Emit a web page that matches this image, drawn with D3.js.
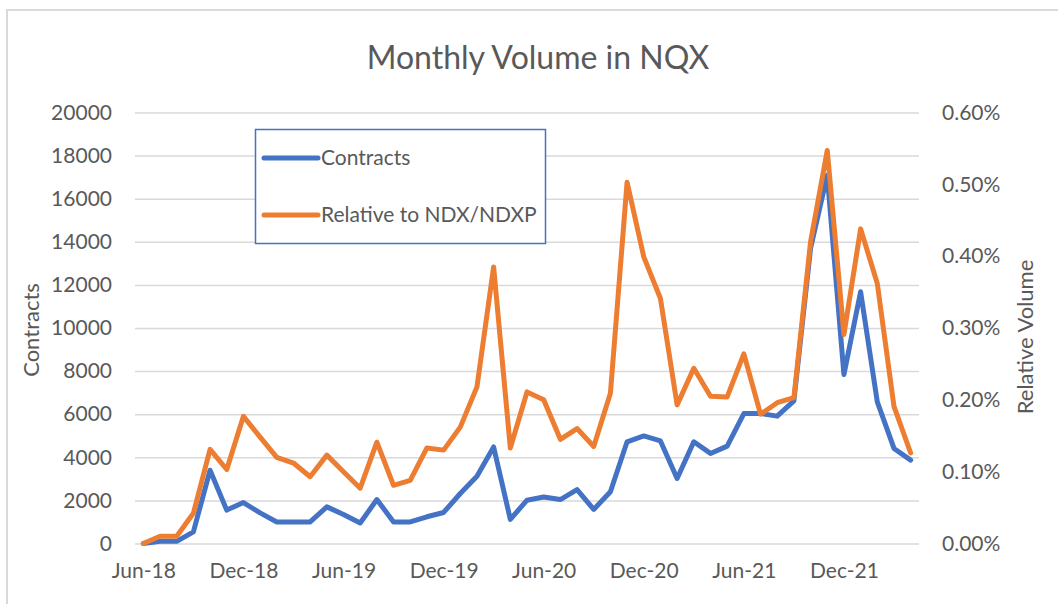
<!DOCTYPE html>
<html>
<head>
<meta charset="utf-8">
<script src="https://cdn.jsdelivr.net/npm/d3@7"></script>
<style>
  body { margin: 0; background: #fff; }
  svg { display: block; font-family: Lato, "Open Sans", sans-serif; }
</style>
</head>
<body>
<div id="chart"></div>
<script>
const months = [
  "Jun-18","Jul-18","Aug-18","Sep-18","Oct-18","Nov-18","Dec-18",
  "Jan-19","Feb-19","Mar-19","Apr-19","May-19","Jun-19","Jul-19","Aug-19","Sep-19","Oct-19","Nov-19","Dec-19",
  "Jan-20","Feb-20","Mar-20","Apr-20","May-20","Jun-20","Jul-20","Aug-20","Sep-20","Oct-20","Nov-20","Dec-20",
  "Jan-21","Feb-21","Mar-21","Apr-21","May-21","Jun-21","Jul-21","Aug-21","Sep-21","Oct-21","Nov-21","Dec-21",
  "Jan-22","Feb-22","Mar-22","Apr-22"
];
const tickLabels = ["Jun-18","Dec-18","Jun-19","Dec-19","Jun-20","Dec-20","Jun-21","Dec-21"];

const contracts = [0,100,100,540,3400,1550,1900,1420,1000,1000,1000,1700,1350,950,2040,1000,1000,1240,1440,2320,3120,4480,1120,2010,2160,2040,2500,1580,2400,4720,4990,4760,3020,4720,4180,4520,6030,6030,5910,6620,13700,17090,7840,11680,6570,4410,3870];

// share of NDX/NDXP volume
const relative = [0,0.0001,0.0001,0.00042,0.00131,0.00103,0.00177,0.00148,0.0012,0.00112,0.00093,0.00123,0.001,0.00077,0.00141,0.00081,0.00088,0.00133,0.0013,0.00162,0.00218,0.00385,0.00133,0.00211,0.002,0.00145,0.0016,0.00135,0.00209,0.00503,0.00399,0.00341,0.00193,0.00244,0.00205,0.00204,0.00264,0.0018,0.00196,0.00203,0.0042,0.00547,0.00291,0.00438,0.00362,0.00191,0.00126];

const leftTicks = [0,2000,4000,6000,8000,10000,12000,14000,16000,18000,20000];
const rightTicks = [0,0.001,0.002,0.003,0.004,0.005,0.006];

const W = 1058, H = 604;
const plot = {left: 135, right: 919, top: 112.5, bottom: 543.5};
const blue = "#4472C4", orange = "#ED7D31", grey = "#595959", gridCol = "#D9D9D9";

const svg = d3.select("#chart").append("svg")
  .attr("width", W)
  .attr("height", H);

// outer chart frame (only top & left visible)
svg.append("path")
  .attr("d", `M7,${H} V10 H${W}`)
  .attr("fill", "none")
  .attr("stroke", gridCol)
  .attr("stroke-width", 2);

const x = d3.scalePoint()
  .domain(months)
  .range([plot.left, plot.right])
  .padding(0.5);

const y = d3.scaleLinear()
  .domain([0, 20000])
  .range([plot.bottom, plot.top]);

const y2 = d3.scaleLinear()
  .domain([0, 0.006])
  .range([plot.bottom, plot.top]);

// gridlines + left labels
svg.append("g")
  .attr("transform", `translate(${plot.left},0)`)
  .call(d3.axisLeft(y).tickValues(leftTicks).tickSize(-(plot.right - plot.left)).tickPadding(23).tickFormat(d3.format("d")))
  .call(g => g.select(".domain").remove())
  .call(g => g.selectAll(".tick line").attr("stroke", gridCol).attr("stroke-width", 1.5))
  .call(g => g.selectAll(".tick text").attr("fill", grey).attr("font-size", 21).attr("font-family", "Lato"));

// right labels
svg.append("g")
  .attr("transform", `translate(${plot.right},0)`)
  .call(d3.axisRight(y2).tickValues(rightTicks).tickSize(0).tickPadding(23).tickFormat(d3.format(".2%")))
  .call(g => g.select(".domain").remove())
  .call(g => g.selectAll(".tick text").attr("fill", grey).attr("font-size", 21).attr("font-family", "Lato"));

// bottom labels
svg.append("g")
  .attr("transform", `translate(0,${plot.bottom})`)
  .call(d3.axisBottom(x).tickValues(tickLabels).tickSize(0).tickPadding(20))
  .call(g => g.select(".domain").remove())
  .call(g => g.selectAll(".tick text").attr("fill", grey).attr("font-size", 21).attr("font-family", "Lato"));

// lines
const lineC = d3.line()
  .x((d, i) => x(months[i]))
  .y(d => y(d));
const lineR = d3.line()
  .x((d, i) => x(months[i]))
  .y(d => y2(d));

svg.append("path")
  .datum(contracts)
  .attr("fill", "none")
  .attr("stroke", blue)
  .attr("stroke-width", 5)
  .attr("stroke-linejoin", "round")
  .attr("stroke-linecap", "round")
  .attr("d", lineC);

svg.append("path")
  .datum(relative)
  .attr("fill", "none")
  .attr("stroke", orange)
  .attr("stroke-width", 5)
  .attr("stroke-linejoin", "round")
  .attr("stroke-linecap", "round")
  .attr("d", lineR);

// title
svg.append("text")
  .attr("x", 538)
  .attr("y", 69)
  .attr("text-anchor", "middle")
  .attr("fill", grey)
  .attr("font-size", 32)
  .text("Monthly Volume in NQX");

// axis titles
svg.append("text")
  .attr("transform", `translate(39,${(plot.top + plot.bottom) / 2 + 2}) rotate(-90)`)
  .attr("text-anchor", "middle")
  .attr("fill", grey)
  .attr("font-size", 22)
  .text("Contracts");

svg.append("text")
  .attr("transform", `translate(1033,${(plot.top + plot.bottom) / 2 + 9}) rotate(-90)`)
  .attr("text-anchor", "middle")
  .attr("fill", grey)
  .attr("font-size", 22)
  .text("Relative Volume");

// legend
const legend = svg.append("g");
legend.append("rect")
  .attr("x", 255.5)
  .attr("y", 129.5)
  .attr("width", 290)
  .attr("height", 114)
  .attr("fill", "#fff")
  .attr("stroke", blue)
  .attr("stroke-width", 1.5);

const legendItems = [
  {name: "Contracts", color: blue, y: 158},
  {name: "Relative to NDX/NDXP", color: orange, y: 215}
];
legendItems.forEach(d => {
  legend.append("line")
    .attr("x1", 264).attr("x2", 318)
    .attr("y1", d.y).attr("y2", d.y)
    .attr("stroke", d.color)
    .attr("stroke-width", 5)
    .attr("stroke-linecap", "round");
  legend.append("text")
    .attr("x", 321)
    .attr("y", d.y + 7)
    .attr("fill", grey)
    .attr("font-size", 21)
    .text(d.name);
});
</script>
</body>
</html>
